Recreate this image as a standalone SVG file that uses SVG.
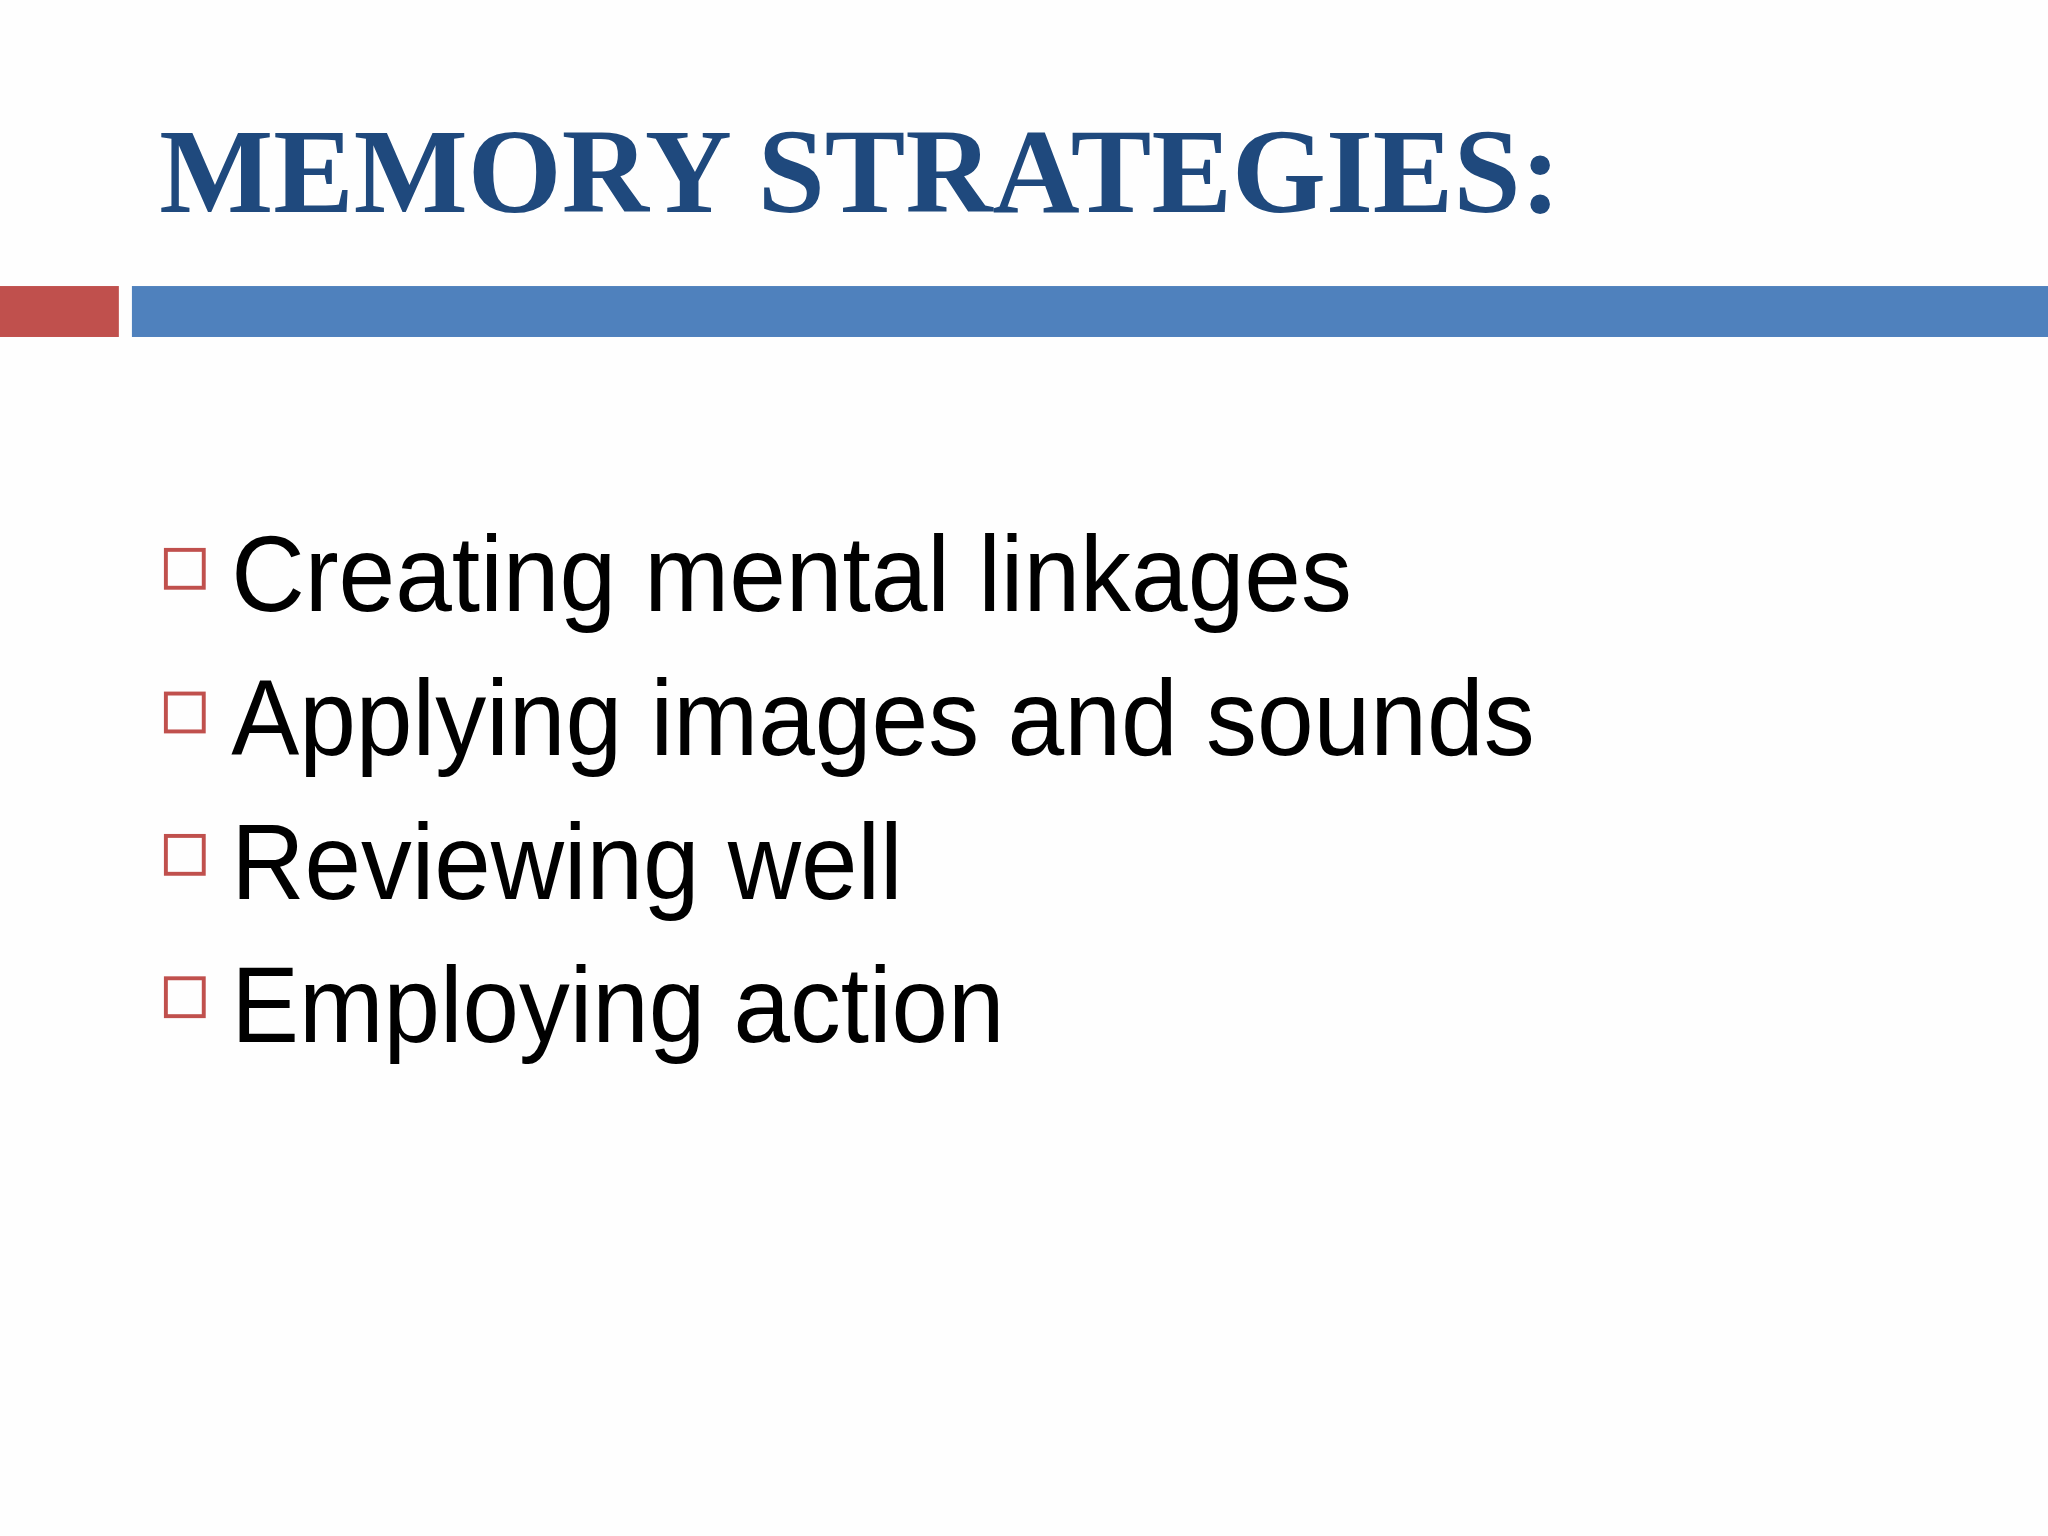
<svg xmlns="http://www.w3.org/2000/svg" width="2048" height="1536" viewBox="0 0 2048 1536">
<style>
.t{font-family:"Liberation Sans",Arial,sans-serif;font-size:82px;fill:#000}
.b{fill:none;stroke:#c0504d;stroke-width:3}
</style>
<rect width="2048" height="1536" fill="#fefefe"/>
<g transform="scale(1.30612)">
<g id="title"><text x="122" y="162" font-family="Liberation Serif,serif" font-weight="bold" font-size="92" fill="#1f497d" textLength="1073" lengthAdjust="spacingAndGlyphs">MEMORY STRATEGIES:</text></g>
<g id="bars"><rect x="0" y="219" width="91" height="39" fill="#c0504d"/><rect x="101" y="219" width="1467" height="39" fill="#4f81bd"/></g>
<g id="item1"><rect class="b" x="127" y="421" width="29" height="29"/><text class="t" x="177" y="468" textLength="858" lengthAdjust="spacingAndGlyphs">Creating mental linkages</text></g>
<g id="item2"><rect class="b" x="127" y="531" width="29" height="29"/><text class="t" x="177" y="578" textLength="998" lengthAdjust="spacingAndGlyphs">Applying images and sounds</text></g>
<g id="item3"><rect class="b" x="127" y="640" width="29" height="29"/><text class="t" x="177" y="688" textLength="514" lengthAdjust="spacingAndGlyphs">Reviewing well</text></g>
<g id="item4"><rect class="b" x="127" y="749" width="29" height="29"/><text class="t" x="177" y="798" textLength="592" lengthAdjust="spacingAndGlyphs">Employing action</text></g>
</g>
</svg>
